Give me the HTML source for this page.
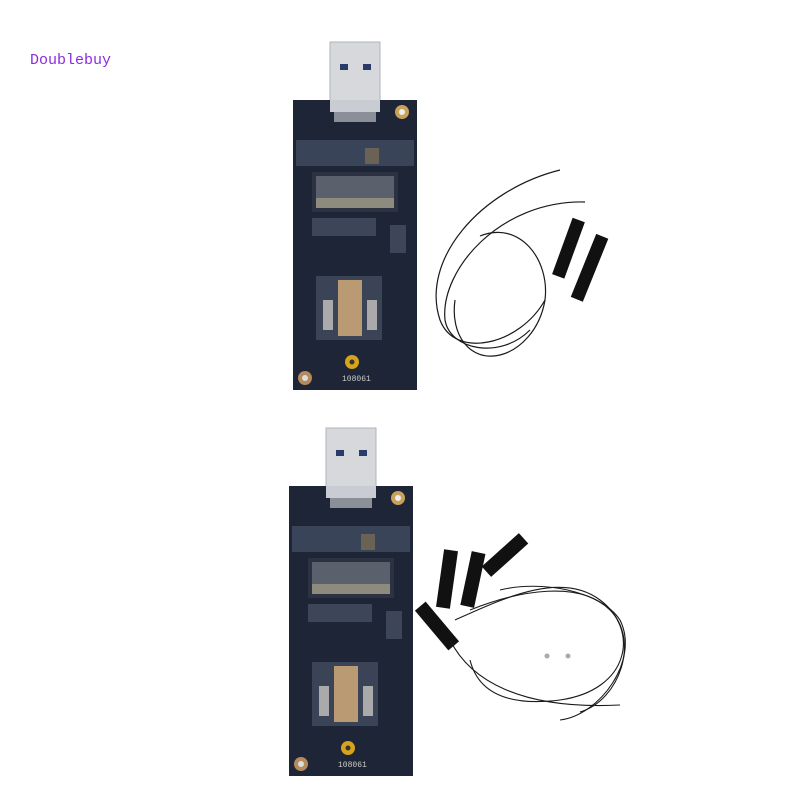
<!DOCTYPE html>
<html><head><style>
html,body{margin:0;padding:0;background:#fff;width:800px;height:800px;overflow:hidden}
.t{position:absolute;left:30px;top:52px;font-family:"Liberation Mono",monospace;font-size:15px;color:#8a2be2}
svg{position:absolute;left:0;top:0}
</style></head><body>
<svg width="800" height="800" viewBox="0 0 800 800">
<defs>
<g id="board">
  <rect x="330" y="42" width="50" height="62" fill="#d6d8dc" stroke="#b0b3b8"/>
  <rect x="340" y="64" width="8" height="6" fill="#2a3b6a"/>
  <rect x="363" y="64" width="8" height="6" fill="#2a3b6a"/>
  <rect x="293" y="100" width="124" height="290" fill="#1d2536"/>
  <rect x="330" y="100" width="50" height="12" fill="#c9ccd2"/>
  <rect x="334" y="112" width="42" height="10" fill="#8a8f98"/>
  <circle cx="402" cy="112" r="7" fill="#c8a25a"/><circle cx="402" cy="112" r="3" fill="#eee"/>
  <rect x="296" y="140" width="118" height="26" fill="#3a4458"/>
  <rect x="365" y="148" width="14" height="16" fill="#6b6256"/>
  <rect x="312" y="172" width="86" height="40" fill="#2c3242"/>
  <rect x="316" y="176" width="78" height="22" fill="#5b616c"/>
  <rect x="316" y="198" width="78" height="10" fill="#8e8a7e"/>
  <rect x="312" y="218" width="64" height="18" fill="#3d4658"/>
  <rect x="390" y="225" width="16" height="28" fill="#3d4658"/>
  <rect x="316" y="276" width="66" height="64" fill="#3b4457"/>
  <rect x="338" y="280" width="24" height="56" fill="#b99a72"/>
  <rect x="323" y="300" width="10" height="30" fill="#aaa"/>
  <rect x="367" y="300" width="10" height="30" fill="#aaa"/>
  <circle cx="352" cy="362" r="7" fill="#d7a31a"/><circle cx="352" cy="362" r="2.5" fill="#333"/>
  <circle cx="305" cy="378" r="7" fill="#b58a5c"/><circle cx="305" cy="378" r="3" fill="#ddd"/>
  <text x="342" y="381" font-family="Liberation Mono,monospace" font-size="8" fill="#ccc">108061</text>
</g>
</defs>
<use href="#board"/>
<use href="#board" transform="translate(-4,386)"/>
<!-- top antennas -->
<g fill="none" stroke="#1a1a1a" stroke-width="1.2">
  <path d="M560 170 C480 190 420 260 440 320 C455 360 520 345 545 300"/>
  <path d="M585 202 C500 200 440 270 445 320 C450 350 500 360 530 330"/>
  <path d="M480 236 C520 220 550 260 545 300 C540 330 520 350 500 355 C470 362 450 335 455 300"/>
</g>
<rect x="562" y="218" width="13" height="60" fill="#111" transform="rotate(20 568 248)"/>
<rect x="583" y="234" width="13" height="68" fill="#111" transform="rotate(22 590 268)"/>
<!-- bottom antennas -->
<rect x="440" y="550" width="14" height="58" fill="#111" transform="rotate(8 447 579)"/>
<rect x="466" y="552" width="14" height="55" fill="#111" transform="rotate(12 473 579)"/>
<rect x="498" y="530" width="14" height="50" fill="#111" transform="rotate(48 505 555)"/>
<rect x="430" y="600" width="14" height="52" fill="#111" transform="rotate(-40 437 626)"/>
<g fill="none" stroke="#1a1a1a" stroke-width="1.1">
  <path d="M455 620 C500 600 560 570 600 600 C640 630 630 690 560 700 C520 705 480 700 470 660"/>
  <path d="M470 610 C520 590 580 580 610 610 C640 640 620 700 580 712"/>
  <path d="M500 590 C540 580 600 590 620 620 C640 660 600 715 560 720"/>
  <path d="M450 640 C470 680 520 710 620 705"/>
</g>
<circle cx="547" cy="656" r="2.5" fill="#aaa"/><circle cx="568" cy="656" r="2.5" fill="#aaa"/>
</svg>
<div class="t">Doublebuy</div>
</body></html>
